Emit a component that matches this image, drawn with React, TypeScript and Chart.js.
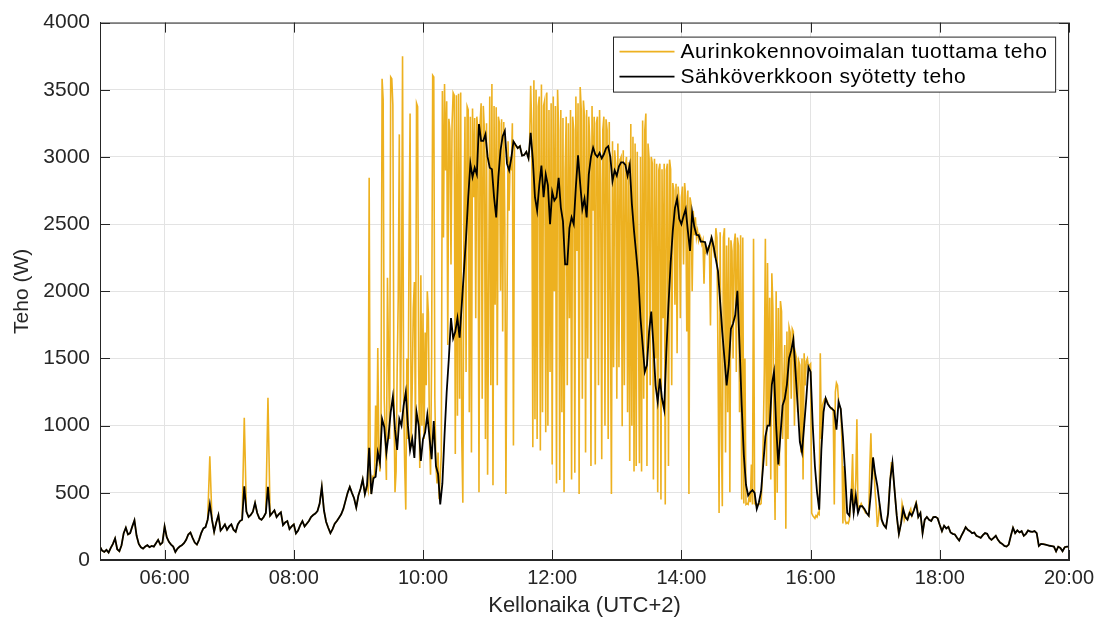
import { useEffect, useRef } from 'react';
import { Chart, registerables } from 'chart.js';

Chart.register(...registerables);

// Power fed into the grid (W), one sample every 2 minutes, one array per clock hour (UTC+2)
const feed05 = [99, 70, 60, 75, 55, 90, 120, 160, 80, 65, 110, 200, 240, 190, 200, 250, 295, 180, 120, 95, 85, 100, 110, 95, 105, 100, 125, 150, 115, 130];
const feed06 = [250, 170, 135, 115, 100, 60, 85, 100, 110, 125, 150, 190, 205, 165, 130, 115, 150, 200, 235, 245, 300, 415, 300, 210, 280, 335, 220, 240, 265, 225];
const feed07 = [250, 265, 225, 210, 265, 290, 300, 549, 360, 320, 335, 360, 425, 350, 310, 300, 320, 350, 544, 330, 350, 370, 320, 340, 355, 260, 280, 290, 230, 250];
const feed08 = [265, 198, 220, 260, 290, 250, 270, 290, 320, 335, 346, 365, 420, 544, 370, 285, 240, 200, 230, 270, 290, 315, 340, 380, 440, 500, 544, 500, 460, 390];
const feed09 = [480, 530, 600, 491, 556, 835, 491, 608, 620, 801, 724, 1050, 990, 800, 930, 1100, 1215, 970, 820, 1050, 1000, 1150, 1250, 1000, 815, 900, 760, 1100, 1000, 737];
const feed10 = [900, 950, 1080, 918, 750, 1035, 700, 640, 414, 570, 930, 1250, 1500, 1800, 1650, 1700, 1800, 1655, 1900, 2150, 2400, 2700, 2950, 2850, 2920, 2870, 3245, 3120, 3120, 3168];
const feed11 = [3000, 2920, 2909, 2700, 2550, 2850, 3050, 3155, 3194, 2950, 2900, 2990, 3116, 3090, 3065, 3080, 3010, 3015, 3039, 2990, 3180, 2980, 2700, 2600, 2790, 2935, 2700, 2870, 2790, 2500];
const feed12 = [2740, 2676, 2700, 2845, 2625, 2520, 2200, 2200, 2470, 2550, 2500, 2780, 3013, 2800, 2612, 2690, 2550, 2870, 3000, 3070, 3020, 3000, 3030, 2990, 3020, 3065, 3080, 3000, 2820, 2900];
const feed13 = [2860, 2930, 2960, 2960, 2940, 2860, 2940, 2650, 2450, 2280, 2100, 1800, 1600, 1400, 1450, 1700, 1849, 1600, 1300, 1177, 1350, 1200, 1120, 1550, 1900, 2211, 2450, 2620, 2689, 2540];
const feed14 = [2500, 2560, 2612, 2450, 2300, 2586, 2480, 2420, 2418, 2370, 2370, 2366, 2289, 2340, 2400, 2330, 2237, 2150, 1920, 1694, 1500, 1300, 1450, 1720, 1760, 1823, 2004, 1600, 1150, 780];
const feed15 = [560, 480, 504, 520, 500, 380, 430, 510, 711, 918, 1000, 1000, 1306, 1400, 1000, 711, 930, 1150, 1200, 1306, 1500, 1560, 1642, 1400, 1150, 880, 802, 1000, 1200, 1435];
const feed16 = [1400, 1000, 700, 504, 375, 820, 1100, 1203, 1160, 1138, 1125, 1110, 970, 1177, 1125, 918, 659, 350, 330, 530, 350, 480, 350, 400, 400, 380, 350, 330, 500, 763];
const feed17 = [640, 550, 420, 300, 260, 240, 349, 600, 724, 520, 330, 194, 272, 380, 320, 300, 350, 330, 370, 420, 320, 350, 200, 300, 320, 300, 290, 320, 321, 310];
const feed18 = [260, 215, 255, 235, 247, 205, 195, 190, 165, 145, 180, 210, 245, 225, 215, 200, 205, 180, 173, 165, 185, 200, 195, 165, 150, 165, 180, 150, 130, 120];
const feed19 = [105, 100, 115, 180, 240, 200, 220, 205, 215, 180, 195, 220, 212, 210, 215, 200, 105, 120, 118, 115, 110, 106, 104, 100, 65, 99, 90, 65, 95, 99];
const feed20 = [99];
const FEED_STEP_MIN = 2;

// Solar plant output (W), one sample per minute while it differs from the grid feed
const solar09 = [556, 520, 2845, 560, 491, 620, 608, 640, 1150, 700, 1577, 801, 659, 1000, 3582, 3426, 1200, 900, 595, 2100, 1500, 900, 3595, 3582, 3388, 1200, 504, 659, 1400, 1952, 3168, 1100, 1810, 3750, 1200, 700, 375, 1500, 900, 2300, 3323, 840, 1300, 1875, 2069, 900, 3400, 3375, 1400, 685, 2120, 1000];
const solar10 = [1836, 900, 1694, 1300, 2000, 1836, 900, 634, 1500, 3607, 3595, 1200, 700, 569, 800, 452, 620, 789, 3491, 2400, 3543, 2900, 3414, 1600, 3284, 3194, 2200, 3245, 3478, 3460, 789, 3460, 1073, 3470, 1200, 3480, 900, 427, 2500, 3300, 1400, 3375, 3350, 1100, 3300, 800, 3360, 2700, 3290, 1800, 3300, 3194, 504, 3250, 3400, 1200, 3380, 3200, 900, 3250];
const solar11 = [634, 2000, 3450, 1300, 3543, 556, 3380, 1900, 3370, 1300, 3300, 3250, 2004, 3280, 1700, 3260, 2500, 491, 1800, 3116, 2600, 3000, 2900, 3250, 853, 3103, 3090, 3078, 3065, 3072, 3080, 3045, 3010, 3012, 3015, 3027, 3039, 3015, 2990, 3085, 3530, 3233, 840, 3570, 1047, 3500, 900, 3375, 3450, 815, 3540, 1100, 3380, 3420, 950, 3480, 1000, 3350, 1400, 3400];
const solar12 = [711, 3450, 2000, 3380, 569, 3500, 3200, 595, 3350, 1100, 3290, 504, 2900, 3300, 1300, 3250, 1800, 3350, 600, 3300, 3200, 650, 3450, 2300, 3400, 491, 3520, 3350, 1200, 3420, 3300, 800, 3350, 1500, 3300, 3100, 700, 3380, 2600, 3300, 711, 3250, 3300, 1300, 3350, 2800, 750, 3200, 3300, 1000, 3280, 3200, 900, 3260, 2000, 491, 3116, 1435, 3050, 2950];
const solar13 = [1200, 3100, 1435, 2980, 3000, 996, 3050, 1300, 2935, 3000, 1100, 2960, 737, 3245, 1000, 3150, 659, 3100, 700, 3039, 2000, 720, 3000, 659, 3271, 1200, 3200, 3323, 700, 3100, 2987, 1300, 3000, 2950, 600, 2987, 1500, 2950, 504, 2900, 2950, 450, 2909, 1800, 2950, 414, 2900, 2950, 700, 2980, 2909, 1300, 2806, 2750, 1900, 2800, 1539, 2780, 2650, 1800];
const solar14 = [2700, 2780, 2200, 2806, 2700, 1700, 2750, 491, 2700, 2650, 2000, 2600, 2418, 2550, 2400, 2450, 2380, 2420, 2400, 2350, 2380, 2056, 2370, 2300, 2320, 2330, 2340, 1746, 2400, 2380, 2300, 2250, 2470, 2400, 1500, 349, 2440, 1000, 400, 2400, 2470, 800, 2340, 1100, 2400, 504, 2380, 2300, 1500, 2350, 2430, 1400, 2400, 2340, 1100, 2418, 450, 2400, 420, 1500];
const solar15 = [414, 420, 414, 480, 430, 711, 414, 2392, 420, 414, 400, 414, 420, 414, 420, 600, 900, 1400, 2392, 700, 2211, 1000, 1952, 600, 2134, 1875, 900, 297, 2000, 500, 1875, 700, 1927, 1849, 900, 1300, 1600, 233, 1700, 900, 1733, 1694, 1200, 1720, 1700, 1000, 1539, 1500, 1100, 1480, 1450, 800, 1500, 600, 1539, 1300, 1480, 1500, 1435, 1450];
const solar16 = [1460, 349, 330, 320, 310, 330, 320, 350, 340, 1539, 900, 1150, 1177, 1200, 1203, 1190, 1170, 1150, 1138, 1125, 1130, 1110, 414, 1250, 1319, 1300, 1177, 1140, 1125, 900, 272, 700, 300, 272, 280, 272, 300, 400, 530, 789, 350, 450, 600, 1047, 350, 400, 400, 420, 400, 380, 370, 350, 350, 340, 330, 700, 944, 600, 763, 650];
const solar17 = [500, 400, 246, 300, 420, 330, 300, 270, 260, 250, 240, 300, 349, 500, 600, 724, 724, 600, 520, 420, 330, 250, 194, 230, 280, 420, 380, 300, 330, 310, 300, 340, 360, 380, 330, 350, 380, 400, 430, 400, 320];
// first minute (after 05:00) of each per-minute block above
const solarStartMin = [248, 300, 360, 420, 480, 540, 600, 660, 720];

// Short morning production peaks above the grid feed
const morningPeakMin = [102, 134, 156];
const morningPeakW = [772, 1059, 1207];

// Axis ticks
const timeTickMin = [60, 180, 300, 420, 540, 660, 780, 900];
const timeTickLabels = ['06:00', '08:00', '10:00', '12:00', '14:00', '16:00', '18:00', '20:00'];
const powerMax = 4000;
const powerStep = 500;

const seriesNames = ['Aurinkokennovoimalan tuottama teho', 'Sähköverkkoon syötetty teho'];

const SOLAR_COLOR = '#EDB120';
const FEED_COLOR = '#000000';
const AXIS_COLOR = '#262626';
const GRID_COLOR = '#e3e3e3';
const FONT = '"Liberation Sans", Arial, Helvetica, sans-serif';
const TICK_LEN = 10;
const SOLAR_WIDTH = 1.6;
const FEED_WIDTH = 1.8;

type Pt = { x: number; y: number };

function buildFeed(): Pt[] {
  const hours = [feed05, feed06, feed07, feed08, feed09, feed10, feed11, feed12, feed13, feed14, feed15, feed16, feed17, feed18, feed19, feed20];
  const pts: Pt[] = [];
  hours.forEach((arr, h) => arr.forEach((w, i) => pts.push({ x: h * 60 + i * FEED_STEP_MIN, y: w })));
  return pts;
}

function buildSolar(feed: Pt[]): Pt[] {
  const blocks = [solar09, solar10, solar11, solar12, solar13, solar14, solar15, solar16, solar17];
  const first = solarStartMin[0];
  const last = solarStartMin[solarStartMin.length - 1] + solar17.length - 1;
  const pts: Pt[] = [];
  // before the busy period production equals the grid feed, apart from a few peaks
  feed.filter((p) => p.x < first).forEach((p) => {
    const k = morningPeakMin.indexOf(p.x);
    pts.push({ x: p.x, y: k >= 0 ? morningPeakW[k] : p.y });
  });
  blocks.forEach((arr, b) => arr.forEach((w, i) => pts.push({ x: solarStartMin[b] + i, y: w })));
  feed.filter((p) => p.x > last).forEach((p) => pts.push({ x: p.x, y: p.y }));
  return pts;
}

const boxPlugin = {
  id: 'matlabBox',
  afterDraw(chart: any) {
    const { ctx, chartArea: a, scales } = chart;
    const sx = scales.x;
    const sy = scales.y;
    ctx.save();
    ctx.strokeStyle = AXIS_COLOR;
    ctx.lineWidth = 1;
    ctx.strokeRect(a.left + 0.5, a.top + 0.5, a.right - a.left - 1, a.bottom - a.top - 1);
    ctx.beginPath();
    for (const v of timeTickMin) {
      const px = Math.round(sx.getPixelForValue(v)) + 0.5;
      ctx.moveTo(px, a.bottom);
      ctx.lineTo(px, a.bottom - TICK_LEN);
      ctx.moveTo(px, a.top);
      ctx.lineTo(px, a.top + TICK_LEN);
    }
    for (let w = 0; w <= powerMax; w += powerStep) {
      const py = Math.round(sy.getPixelForValue(w)) + 0.5;
      ctx.moveTo(a.left, py);
      ctx.lineTo(a.left + TICK_LEN, py);
      ctx.moveTo(a.right, py);
      ctx.lineTo(a.right - TICK_LEN, py);
    }
    ctx.stroke();

    // legend box in the upper right corner of the axes
    const fontPx = 21;
    ctx.font = `${fontPx}px ${FONT}`;
    (ctx as any).letterSpacing = '0.6px';
    const textW = Math.max(...seriesNames.map((s) => ctx.measureText(s).width));
    const lineLen = 55;
    const boxW = 6 + lineLen + 6 + textW + 8;
    const boxH = 55;
    const bx = Math.round(a.right - 14 - boxW) + 0.5;
    const by = a.top + 14 + 0.5;
    ctx.fillStyle = '#ffffff';
    ctx.fillRect(bx, by, boxW, boxH);
    ctx.strokeStyle = AXIS_COLOR;
    ctx.lineWidth = 1;
    ctx.strokeRect(bx, by, boxW, boxH);
    const rows = [by + 14.5, by + 39.5];
    const colors = [SOLAR_COLOR, FEED_COLOR];
    const widths = [SOLAR_WIDTH, FEED_WIDTH];
    seriesNames.forEach((name, i) => {
      ctx.strokeStyle = colors[i];
      ctx.lineWidth = widths[i];
      ctx.beginPath();
      ctx.moveTo(bx + 6, rows[i]);
      ctx.lineTo(bx + 6 + lineLen, rows[i]);
      ctx.stroke();
      ctx.fillStyle = '#000000';
      ctx.textBaseline = 'middle';
      ctx.textAlign = 'left';
      ctx.fillText(name, bx + 6 + lineLen + 6, rows[i] + 1);
    });
    ctx.restore();
  },
};

export default function App() {
  const ref = useRef<HTMLCanvasElement | null>(null);

  useEffect(() => {
    if (!ref.current) return;
    const feed = buildFeed();
    const solar = buildSolar(feed);
    const chart = new Chart(ref.current, {
      type: 'line',
      data: {
        datasets: [
          {
            label: seriesNames[0],
            data: solar,
            borderColor: SOLAR_COLOR,
            borderWidth: SOLAR_WIDTH,
            pointRadius: 0,
            tension: 0,
            order: 2,
          },
          {
            label: seriesNames[1],
            data: feed,
            borderColor: FEED_COLOR,
            borderWidth: FEED_WIDTH,
            pointRadius: 0,
            tension: 0,
            order: 1,
          },
        ],
      },
      options: {
        animation: false,
        responsive: false,
        devicePixelRatio: 1,
        events: [],
        layout: { padding: { top: 21, right: 37, left: 0, bottom: 0 } },
        plugins: { legend: { display: false }, tooltip: { enabled: false } },
        scales: {
          x: {
            type: 'linear',
            min: 0,
            max: 900,
            afterBuildTicks: (scale: any) => {
              scale.ticks = timeTickMin.map((value) => ({ value }));
            },
            afterFit: (scale: any) => {
              scale.height = 62;
            },
            ticks: {
              autoSkip: false,
              maxRotation: 0,
              padding: 6,
              color: AXIS_COLOR,
              font: { family: FONT, size: 20 },
              callback: (value: any) => timeTickLabels[timeTickMin.indexOf(Number(value))] ?? '',
            },
            grid: { color: GRID_COLOR, drawTicks: false, lineWidth: 1 },
            border: { display: true, color: AXIS_COLOR },
            title: {
              display: true,
              text: 'Kellonaika (UTC+2)',
              color: AXIS_COLOR,
              font: { family: FONT, size: 22 },
              padding: { top: 0, bottom: 3 },
            },
          },
          y: {
            type: 'linear',
            min: 0,
            max: powerMax,
            afterFit: (scale: any) => {
              scale.width = 100;
            },
            ticks: {
              stepSize: powerStep,
              padding: 10,
              color: AXIS_COLOR,
              font: { family: FONT, size: 21 },
              callback: (value: any) => String(value),
            },
            grid: { color: GRID_COLOR, drawTicks: false, lineWidth: 1 },
            border: { display: true, color: AXIS_COLOR },
            title: {
              display: true,
              text: 'Teho (W)',
              color: AXIS_COLOR,
              font: { family: FONT, size: 21 },
              padding: { top: 10, bottom: 0 },
            },
          },
        },
      },
      plugins: [boxPlugin],
    });
    return () => chart.destroy();
  }, []);

  return (
    <div style={{ position: 'absolute', left: 0, top: 0, width: 1106, height: 622, background: '#ffffff' }}>
      <canvas ref={ref} width={1106} height={622} style={{ display: 'block' }} />
    </div>
  );
}
